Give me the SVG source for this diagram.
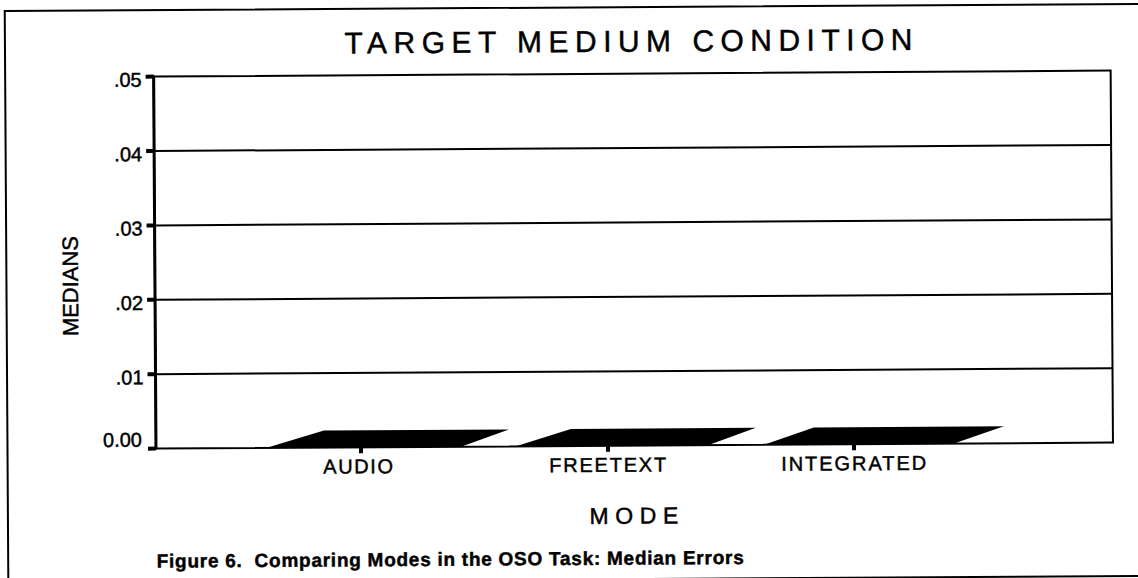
<svg xmlns="http://www.w3.org/2000/svg" width="1138" height="578" viewBox="0 0 1138 578">
  <style>
    .ln { stroke: #000; stroke-width: 2; fill: none; }
    .grid { stroke: #000; stroke-width: 2; }
    .txt { font-family: "Liberation Sans", Arial, Helvetica, sans-serif; fill: #000; stroke: #000; stroke-width: 0.45; }
    .ax { font-size: 20px; }
    .cat { font-size: 20px; }
    .mark { fill: #000; }
    .bar { fill: #000; }
  </style>
  <rect width="1138" height="578" fill="#fff"/>

  <!-- whole page sits at a slight tilt -->
  <g id="page" transform="rotate(-0.36 570 290)">
    <!-- outer frame (right edge runs off the page) -->
    <rect id="frame" class="ln" x="6.5" y="7.5" width="1150" height="572"/>

    <text id="title" class="txt" x="346" y="52" font-size="30" textLength="568" lengthAdjust="spacing">TARGET MEDIUM CONDITION</text>

    <!-- plot area with gridlines -->
    <g id="plot">
      <rect class="ln" x="155" y="74" width="957" height="372"/>
      <line class="grid" x1="155" y1="148.4" x2="1112" y2="148.4"/>
      <line class="grid" x1="155" y1="222.8" x2="1112" y2="222.8"/>
      <line class="grid" x1="155" y1="297.2" x2="1112" y2="297.2"/>
      <line class="grid" x1="155" y1="371.6" x2="1112" y2="371.6"/>
      <line x1="155" y1="73" x2="155" y2="447" stroke="#000" stroke-width="3"/>
    </g>

    <!-- y axis ticks and values -->
    <g id="y-axis">
      <rect class="mark" x="147" y="72" width="8" height="4"/>
      <rect class="mark" x="147" y="146.4" width="8" height="4"/>
      <rect class="mark" x="147" y="220.8" width="8" height="4"/>
      <rect class="mark" x="147" y="295.2" width="8" height="4"/>
      <rect class="mark" x="147" y="369.6" width="8" height="4"/>
      <rect class="mark" x="147" y="444" width="8" height="4"/>
      <g class="txt ax" text-anchor="end">
        <text x="143" y="84">.05</text>
        <text x="143" y="158.4">.04</text>
        <text x="143" y="232.8">.03</text>
        <text x="143" y="307.2">.02</text>
        <text x="143" y="381.6">.01</text>
        <text x="141" y="444">0.00</text>
      </g>
      <text id="y-title" class="txt" font-size="22" transform="translate(78 333) rotate(-90)" textLength="100" lengthAdjust="spacing">MEDIANS</text>
    </g>

    <!-- bars (flat slabs lying on the baseline) -->
    <g id="bars">
      <polygon id="bar-audio" class="bar" points="265,446 323,429 508,429 460,446"/>
      <polygon id="bar-freetext" class="bar" points="515,446 570,429 755,429 707,446"/>
      <polygon id="bar-integrated" class="bar" points="763,446 813,429 1003,429 953,446"/>
    </g>

    <!-- x axis ticks and categories -->
    <g id="x-axis">
      <rect class="mark" x="358" y="446" width="4" height="6"/>
      <rect class="mark" x="605" y="446" width="4" height="6"/>
      <rect class="mark" x="851" y="446" width="4" height="6"/>
      <text class="txt cat" x="322" y="472" textLength="70" lengthAdjust="spacing">AUDIO</text>
      <text class="txt cat" x="548" y="472" textLength="117" lengthAdjust="spacing">FREETEXT</text>
      <text class="txt cat" x="780" y="472" textLength="145" lengthAdjust="spacing">INTEGRATED</text>
      <text id="x-title" class="txt" x="588" y="524" font-size="23" textLength="89" lengthAdjust="spacing">MODE</text>
    </g>

    <text id="caption" class="txt" x="155" y="565" font-size="19" font-weight="bold" stroke-width="0.2" xml:space="preserve" textLength="587" lengthAdjust="spacing">Figure 6.  Comparing Modes in the OSO Task: Median Errors</text>
  </g>
</svg>
